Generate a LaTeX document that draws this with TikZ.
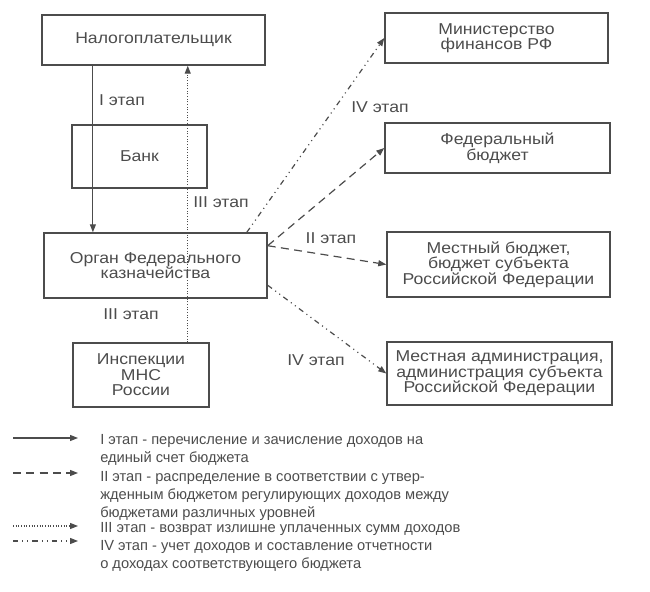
\documentclass[tikz,border=0pt]{standalone}
\usepackage{fontspec}
\setmainfont{Liberation Sans}
\newfontfamily\widefont[FakeStretch=1.12]{Liberation Sans}
\usetikzlibrary{arrows.meta,calc}
\definecolor{ink}{gray}{0.3}

\tikzset{
  box/.style={draw=ink,line width=1.1pt,text=ink,align=center,inner sep=2pt,
    font=\widefont\fontsize{11.8}{11.6}\selectfont},
  lbl/.style={text=ink,inner sep=1pt,font=\widefont\fontsize{11.8}{11.6}\selectfont},
  legtext/.style={text=ink,inner sep=0pt,anchor=base west,
    font=\fontsize{11}{13.5}\selectfont},
  stage/.style={draw=ink,line width=0.9pt,-{Triangle[length=6pt,width=4.5pt]}},
  stageI/.style={stage},
  stageII/.style={stage,dash pattern=on 6pt off 4pt},
  stageIII/.style={stage,dash pattern=on 0.8pt off 1.2pt},
  stageIV/.style={stage,dash pattern=on 4pt off 3pt on 0.8pt off 3pt on 0.8pt off 3pt},
}

\begin{document}
\begin{tikzpicture}[x=0.75pt,y=-0.75pt]
\useasboundingbox (0,0) rectangle (650,592);

\node[box,minimum width=167.25pt,minimum height=37.5pt] (nalog) at (153.5,40) {Налогоплательщик};
\node[box,minimum width=101.25pt,minimum height=47.25pt] (bank) at (139.5,156.5) {Банк};
\node[box,minimum width=167.25pt,minimum height=48.75pt] (organ) at (155.5,265.5) {Орган Федерального\\казначейства};
\node[box,minimum width=102pt,minimum height=48pt] (insp) at (141,375) {Инспекции\\МНС\\России};

\node[box,minimum width=167.25pt,minimum height=37.5pt] (minfin) at (496.5,38) {Министерство\\финансов РФ};
\node[box,minimum width=168.75pt,minimum height=37.5pt] (fedb) at (497.5,148) {Федеральный\\бюджет};
\node[box,minimum width=167.25pt,minimum height=48.75pt] (mestb) at (498.5,264.5) {Местный бюджет,\\бюджет субъекта\\Российской Федерации};
\node[box,minimum width=168.75pt,minimum height=47.25pt] (mesta) at (499.5,373.5) {Местная администрация,\\администрация субъекта\\Российской Федерации};

\path ($(nalog.south west)!.23!(nalog.south east)$) coordinate (r1);
\path ($(insp.north west)!.84!(insp.north east)$) coordinate (r3);

\draw[stageI] (r1) -- (r1 |- organ.north);
\draw[stageIII] (r3) -- (r3 |- nalog.south);
\draw[stageII] (organ.10) -- (fedb.west);
\draw[stageII] (organ.10) -- (mestb.west);
\draw[stageIV] (organ.20) -- (minfin.west);
\draw[stageIV] (organ.-10) -- (mesta.west);

\node[lbl] (lI) at (122,100) {I этап};
\node[lbl] (lIIIa) at (221,202) {III этап};
\node[lbl] (lIIIb) at (131,314) {III этап};
\node[lbl] (lII) at (331,238) {II этап};
\node[lbl] (lIVa) at (380,107) {IV этап};
\node[lbl] (lIVb) at (316,360) {IV этап};

\node[legtext] (t1a) at (100,444) {I этап - перечисление и зачисление доходов на};
\node[legtext] (t1b) at (100,462) {единый счет бюджета};
\node[legtext] (t2a) at (100,481) {II этап - распределение в соответствии с утвер-};
\node[legtext] (t2b) at (100,499) {жденным бюджетом регулирующих доходов между};
\node[legtext] (t2c) at (100,517) {бюджетами различных уровней};
\node[legtext] (t3a) at (100,532) {III этап - возврат излишне уплаченных сумм доходов};
\node[legtext] (t4a) at (100,550) {IV этап - учет доходов и составление отчетности};
\node[legtext] (t4b) at (100,568) {о доходах соответствующего бюджета};

\coordinate (a1) at (13,438);
\coordinate (a2) at (13,473);
\coordinate (a3) at (13,526);
\coordinate (a4) at (13,541);
\draw[stageI] (a1) -- ++(65,0);
\draw[stageII] (a2) -- ++(65,0);
\draw[stageIII] (a3) -- ++(65,0);
\draw[stageIV] (a4) -- ++(65,0);

\end{tikzpicture}
\end{document}
